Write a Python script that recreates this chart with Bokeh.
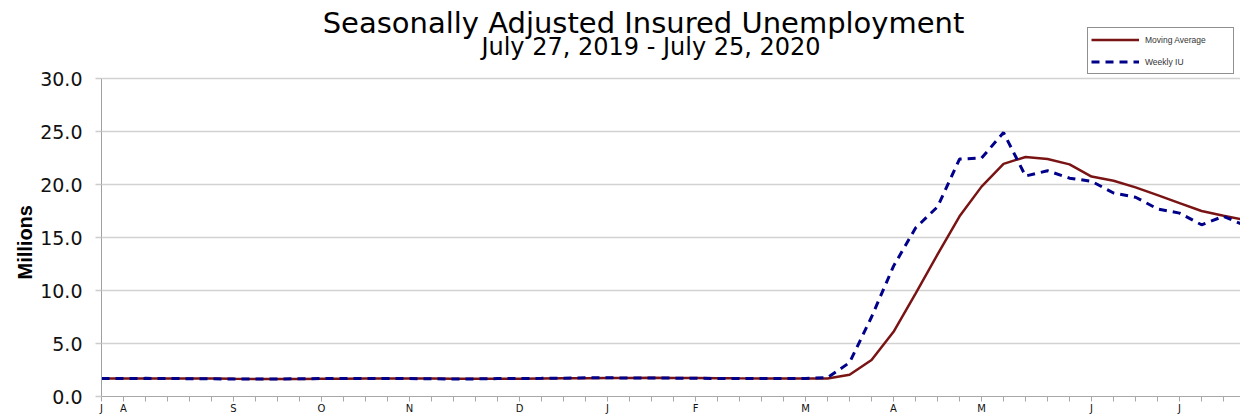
from bokeh.plotting import figure
from bokeh.models import (Range1d, FixedTicker, Label, Legend, LegendItem, Title,
                          NumeralTickFormatter, ColumnDataSource)
from bokeh.embed import file_html
from bokeh.resources import INLINE

# ---- data (millions), weekly from Jul 27, 2019 (week 0) to Jul 25, 2020 (week 52)
weeks = list(range(53))
weekly_iu = [1.70, 1.69, 1.71, 1.70, 1.68, 1.67, 1.64, 1.65, 1.65, 1.68,
             1.69, 1.69, 1.69, 1.69, 1.69, 1.68, 1.64, 1.66, 1.69, 1.70,
             1.71, 1.73, 1.76, 1.77, 1.74, 1.75, 1.73, 1.72, 1.70, 1.70,
             1.69, 1.69, 1.70, 1.78, 3.20, 7.50, 12.30, 15.90, 17.90, 22.40,
             22.50, 24.90, 20.80, 21.30, 20.60, 20.30, 19.20, 18.80, 17.70, 17.30,
             16.20, 17.00, 16.10]
moving_avg = [1.69, 1.69, 1.70, 1.70, 1.70, 1.69, 1.67, 1.66, 1.65, 1.66,
              1.67, 1.68, 1.69, 1.69, 1.69, 1.69, 1.68, 1.67, 1.67, 1.67,
              1.69, 1.71, 1.73, 1.74, 1.75, 1.76, 1.75, 1.74, 1.73, 1.71,
              1.70, 1.70, 1.70, 1.70, 2.05, 3.45, 6.10, 9.70, 13.40, 17.00,
              19.80, 21.95, 22.60, 22.40, 21.90, 20.75, 20.35, 19.73, 19.00, 18.25,
              17.50, 17.05, 16.65]
month_labels = ["J", "A", "S", "O", "N", "D", "J", "F", "M", "A", "M", "J", "J"]
month_label_weeks = [0, 1, 6, 10, 14, 19, 23, 27, 32, 36, 40, 45, 49]
y_ticks = [0, 5, 10, 15, 20, 25, 30]

title_text = "Seasonally Adjusted Insured Unemployment"
subtitle_text = "July 27, 2019 - July 25, 2020"
y_label = "Millions"
series_names = ["Moving Average", "Weekly IU"]

src = ColumnDataSource(dict(week=weeks, weekly=weekly_iu, ma=moving_avg))

p = figure(width=1240, height=416, output_backend="svg", toolbar_location=None,
           x_range=Range1d(0, 51.77), y_range=Range1d(0, 37.36),
           min_border_left=101, min_border_right=0, min_border_top=0,
           min_border_bottom=0)
p.outline_line_color = None
p.background_fill_color = "white"
p.border_fill_color = "white"

# x axis
xa = p.xaxis[0]
xa.ticker = FixedTicker(ticks=weeks)
overrides = {w: "" for w in weeks}
for w, lab in zip(month_label_weeks, month_labels):
    overrides[w] = lab
xa.major_label_overrides = overrides
xa.axis_line_color = "#a8a8a8"
xa.axis_line_width = 1
xa.major_tick_line_color = "#a8a8a8"
xa.major_tick_out = 5
xa.major_tick_in = 0
xa.minor_tick_line_color = None
xa.major_label_standoff = 1
xa.major_label_text_font = "DejaVu Sans"
xa.major_label_text_font_size = "10px"
xa.major_label_text_color = "#111111"

# y axis
ya = p.yaxis[0]
ya.ticker = FixedTicker(ticks=y_ticks)
ya.formatter = NumeralTickFormatter(format="0.0")
ya.bounds = (0, 30)
ya.axis_line_color = "#a0a0a0"
ya.axis_line_width = 1
ya.major_tick_line_color = "#cccccc"
ya.major_tick_line_width = 1.5
ya.major_tick_out = 6
ya.major_tick_in = 0
ya.minor_tick_line_color = None
ya.major_label_standoff = 13
ya.major_label_text_font = "DejaVu Sans"
ya.major_label_text_font_size = "19px"
ya.major_label_text_color = "#111111"

p.xgrid.visible = False
p.ygrid.ticker = FixedTicker(ticks=y_ticks)
p.ygrid.grid_line_color = "#d2d2d2"
p.ygrid.grid_line_width = 1.5

# lines
r_ma = p.line("week", "ma", source=src, line_color="#7a1414", line_width=2.5)
r_wk = p.line("week", "weekly", source=src, line_color="#00008a", line_width=3,
              line_dash="8 6")

legend = Legend(items=[LegendItem(label=series_names[0], renderers=[r_ma]),
                       LegendItem(label=series_names[1], renderers=[r_wk])],
                location=(986, 322), orientation="vertical",
                padding=3, margin=0, spacing=5,
                glyph_width=48, glyph_height=17, label_height=17,
                label_width=85, label_standoff=6,
                label_text_font="Liberation Sans", label_text_font_size="8.5px",
                label_text_color="#333333",
                border_line_color="#222222", border_line_width=1,
                background_fill_color="white", background_fill_alpha=1)
p.add_layout(legend, "center")

p.add_layout(Label(x=542, y=373.5, x_units="screen", y_units="screen",
                   text=title_text, text_align="center", text_baseline="alphabetic",
                   text_font="DejaVu Sans", text_font_size="29px", text_color="#000000"))
p.add_layout(Label(x=549.5, y=350, x_units="screen", y_units="screen",
                   text=subtitle_text, text_align="center", text_baseline="alphabetic",
                   text_font="DejaVu Sans", text_font_size="24px", text_color="#000000"))

p.add_layout(Title(text=y_label, align="left", offset=117, standoff=4,
                   text_font="Liberation Sans", text_font_size="20px",
                   text_font_style="bold", text_color="#000000"), "left")

open("out.html", "w").write(file_html(p, INLINE))
